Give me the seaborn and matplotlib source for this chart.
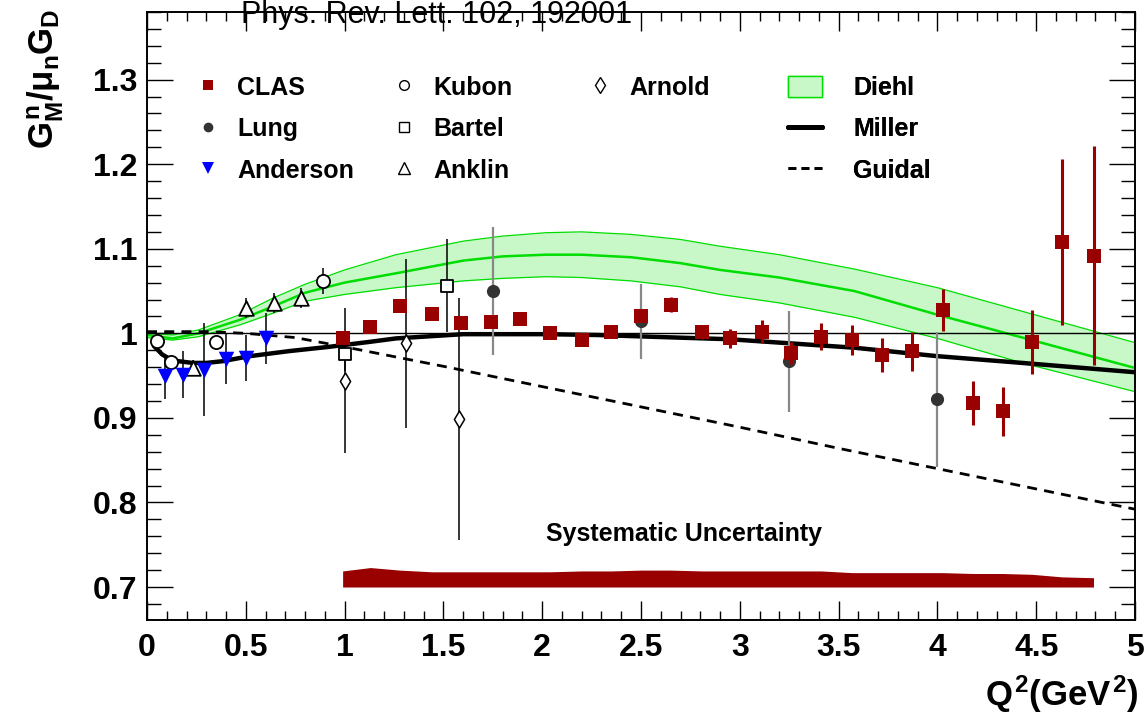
import numpy as np
import pandas as pd
import matplotlib
matplotlib.use("Agg")
import matplotlib.pyplot as plt
import seaborn as sns
from matplotlib.lines import Line2D
from matplotlib.patches import Patch
from matplotlib.ticker import MultipleLocator, FuncFormatter

# ---------------- data ----------------
clas_q2 = [0.99, 1.13, 1.28, 1.44, 1.59, 1.74, 1.89, 2.04, 2.20, 2.35, 2.50, 2.65, 2.81,
           2.95, 3.11, 3.26, 3.41, 3.57, 3.72, 3.87, 4.03, 4.18, 4.33, 4.48, 4.63, 4.79]
clas_val = [0.994, 1.007, 1.032, 1.023, 1.012, 1.013, 1.017, 1.000, 0.992, 1.002, 1.021, 1.034, 1.001,
            0.994, 1.002, 0.977, 0.996, 0.992, 0.974, 0.979, 1.028, 0.918, 0.908, 0.990, 1.108, 1.092]
clas_err = [0.003, 0.003, 0.003, 0.003, 0.003, 0.003, 0.003, 0.003, 0.003, 0.003, 0.008, 0.009, 0.008,
            0.011, 0.014, 0.013, 0.016, 0.018, 0.020, 0.023, 0.025, 0.026, 0.029, 0.038, 0.098, 0.130]
clas_sys = [0.019, 0.023, 0.020, 0.018, 0.018, 0.018, 0.018, 0.018, 0.019, 0.019, 0.020, 0.020, 0.019,
            0.019, 0.019, 0.019, 0.019, 0.017, 0.017, 0.017, 0.017, 0.016, 0.016, 0.015, 0.012, 0.011]

lung_q2 = [1.75, 2.50, 3.25, 4.00]
lung_val = [1.050, 1.014, 0.967, 0.922]
lung_err = [0.076, 0.044, 0.060, 0.080]

anderson_q2 = [0.09, 0.18, 0.29, 0.40, 0.50, 0.60]
anderson_val = [0.949, 0.951, 0.957, 0.970, 0.971, 0.994]
anderson_err = [0.027, 0.028, 0.055, 0.030, 0.027, 0.030]

kubon_q2 = [0.05, 0.12, 0.35, 0.89]
kubon_val = [0.991, 0.966, 0.990, 1.062]
kubon_err = [0.005, 0.005, 0.006, 0.015]

bartel_q2 = [1.00, 1.52]
bartel_val = [0.975, 1.056]
bartel_err = [0.020, 0.055]

anklin_q2 = [0.235, 0.50, 0.645, 0.78]
anklin_val = [0.959, 1.030, 1.036, 1.042]
anklin_err = [0.010, 0.012, 0.012, 0.012]

arnold_q2 = [1.00, 1.31, 1.58]
arnold_val = [0.944, 0.988, 0.899]
arnold_err = [0.086, 0.100, 0.143]

diehl_q2 = [0.0, 0.13, 0.26, 0.47, 0.64, 0.80, 1.00, 1.26, 1.60, 1.80, 2.02, 2.20, 2.45, 2.70,
            2.90, 3.20, 3.58, 4.00, 4.43, 5.00]
diehl_mid = [0.998, 0.994, 1.000, 1.016, 1.032, 1.048, 1.060, 1.071, 1.086, 1.091, 1.093, 1.093,
             1.090, 1.083, 1.075, 1.066, 1.050, 1.022, 0.995, 0.959]
diehl_hi = [1.000, 0.998, 1.004, 1.022, 1.042, 1.058, 1.075, 1.093, 1.109, 1.115, 1.119, 1.120,
            1.117, 1.111, 1.103, 1.093, 1.076, 1.054, 1.026, 0.989]
diehl_lo = [0.995, 0.992, 0.996, 1.010, 1.024, 1.038, 1.046, 1.054, 1.062, 1.065, 1.067, 1.066,
            1.062, 1.055, 1.046, 1.036, 1.019, 0.994, 0.965, 0.931]

miller_q2 = [0.035, 0.077, 0.128, 0.23, 0.30, 0.38, 0.52, 0.72, 0.92, 1.13, 1.26, 1.60, 2.02, 2.28, 2.95, 3.58, 4.00, 4.43, 5.00]
miller_val = [0.985, 0.975, 0.968, 0.965, 0.965, 0.967, 0.973, 0.979, 0.984, 0.990, 0.994, 0.999, 0.999, 0.998, 0.993, 0.983, 0.973, 0.965, 0.954]

guidal_q2 = [0.0, 0.30, 0.50, 0.75, 1.00, 1.50, 2.00, 2.50, 3.00, 3.50, 4.00, 4.50, 5.00]
guidal_val = [1.002, 1.002, 1.000, 0.995, 0.984, 0.961, 0.937, 0.913, 0.889, 0.864, 0.840, 0.816, 0.792]

x_ticks = [0, 0.5, 1, 1.5, 2, 2.5, 3, 3.5, 4, 4.5, 5]
y_ticks = [0.7, 0.8, 0.9, 1.0, 1.1, 1.2, 1.3]

# ---------------- style ----------------
CLAS_RED = "#990000"
GREEN = "#00dd00"
GREEN_FILL = "#c8f8c8"

sns.set_theme(style="ticks")
plt.rcParams.update({
    "font.family": ["Liberation Sans", "DejaVu Sans"],
    "font.weight": "bold",
    "mathtext.fontset": "custom",
    "mathtext.rm": "Liberation Sans:bold",
    "mathtext.it": "Liberation Sans:bold",
    "mathtext.bf": "Liberation Sans:bold",
    "mathtext.sf": "Liberation Sans:bold",
    "axes.edgecolor": "black",
    "axes.linewidth": 1.4,
    "xtick.color": "black",
    "ytick.color": "black",
    "text.color": "black",
})

fig = plt.figure(figsize=(11.47, 7.14), dpi=100)
ax = fig.add_axes([147 / 1147, 1 - 620 / 714, 988 / 1147, 608 / 714])
ax.set_facecolor("white")

# Diehl band
ax.fill_between(diehl_q2, diehl_lo, diehl_hi, color=GREEN_FILL, lw=0, zorder=1)
sns.lineplot(x=diehl_q2, y=diehl_hi, color=GREEN, lw=0.9, ax=ax, zorder=1.5, sort=False)
sns.lineplot(x=diehl_q2, y=diehl_lo, color=GREEN, lw=0.9, ax=ax, zorder=1.5, sort=False)
sns.lineplot(x=diehl_q2, y=diehl_mid, color=GREEN, lw=1.8, ax=ax, zorder=1.6, sort=False)

ax.axhline(1.0, color="black", lw=1.0, zorder=2)

# theory curves
sns.lineplot(x=guidal_q2, y=guidal_val, color="black", lw=2.0, ax=ax, zorder=2.5,
             sort=False).lines[-1].set_dashes((3.6, 2.6))
sns.lineplot(x=miller_q2, y=miller_val, color="black", lw=3.2, ax=ax, zorder=3, sort=False)

# systematic uncertainty band
sys_top = [0.70 + s for s in clas_sys]
ax.fill_between(clas_q2, 0.70, sys_top, color=CLAS_RED, lw=0, zorder=2)
ax.text(2.716, 0.763, "Systematic Uncertainty", ha="center", va="center",
        fontsize=18, fontweight="bold")

# error bars
def ebar(x, y, e, color, lw, z):
    ax.errorbar(x, y, yerr=e, fmt="none", ecolor=color, elinewidth=lw, capsize=0, zorder=z)

ebar(arnold_q2, arnold_val, arnold_err, "black", 1.1, 4)
ebar(bartel_q2, bartel_val, bartel_err, "black", 1.1, 4)
ebar(kubon_q2, kubon_val, kubon_err, "black", 1.1, 4)
ebar(anklin_q2, anklin_val, anklin_err, "black", 1.1, 4)
ebar(anderson_q2, anderson_val, anderson_err, "black", 1.1, 4)
ebar(lung_q2, lung_val, lung_err, "#888888", 1.6, 4.2)
ebar(clas_q2, clas_val, clas_err, CLAS_RED, 2.2, 5.5)

# markers
sns.scatterplot(x=arnold_q2, y=arnold_val, marker="d", s=75, color="white",
                edgecolor="black", linewidth=1.1, ax=ax, zorder=5, legend=False)
sns.scatterplot(x=bartel_q2, y=bartel_val, marker="s", s=85, color="white",
                edgecolor="black", linewidth=1.3, ax=ax, zorder=5, legend=False)
sns.scatterplot(x=kubon_q2, y=kubon_val, marker="o", s=90, color="white",
                edgecolor="black", linewidth=1.3, ax=ax, zorder=5, legend=False)
sns.scatterplot(x=anklin_q2, y=anklin_val, marker="^", s=110, color="white",
                edgecolor="black", linewidth=1.3, ax=ax, zorder=5, legend=False)
sns.scatterplot(x=anderson_q2, y=anderson_val, marker="v", s=125, color="#0000ff",
                edgecolor="#0000ff", linewidth=0, ax=ax, zorder=5.2, legend=False)
sns.scatterplot(x=lung_q2, y=lung_val, marker="o", s=90, color="#333333",
                edgecolor="#333333", linewidth=0, ax=ax, zorder=5.3, legend=False)
sns.scatterplot(x=clas_q2, y=clas_val, marker="s", s=90, color=CLAS_RED,
                edgecolor=CLAS_RED, linewidth=0, ax=ax, zorder=6, legend=False)

# axes
ax.set_xlim(0, 5)
ax.set_ylim(0.661, 1.380)
ax.set_xticks(x_ticks)
ax.set_yticks(y_ticks)
ax.xaxis.set_minor_locator(MultipleLocator(0.1))
ax.yaxis.set_minor_locator(MultipleLocator(0.02))
fmt = FuncFormatter(lambda v, p: f"{v:g}")
ax.xaxis.set_major_formatter(fmt)
ax.yaxis.set_major_formatter(fmt)
ax.tick_params(which="both", direction="in", top=True, right=True, width=1.0,
               labelsize=23)
ax.tick_params(axis="x", which="major", length=13.5, pad=9.5)
ax.tick_params(axis="x", which="minor", length=6.5)
ax.tick_params(axis="y", which="major", length=19, pad=7)
ax.tick_params(axis="y", which="minor", length=10)
for lab in ax.get_xticklabels() + ax.get_yticklabels():
    lab.set_fontweight("bold")
ax.set_xlabel("")
ax.set_ylabel("")
for sp in ax.spines.values():
    sp.set_visible(True)
    sp.set_linewidth(1.4)

fig.text(46 / 1147, 1 - 9 / 714, r"$G^{n}_{M}/\mu_{n}G_{D}$", rotation=90,
         ha="center", va="top", fontsize=25)
fig.text(1138 / 1147, 1 - 706 / 714, r"$Q^{2}(GeV^{2})$", ha="right", va="baseline",
         fontsize=25)
fig.text(0.381, 1 - 23 / 714, "Phys. Rev. Lett. 102, 192001", ha="center", va="baseline",
         fontsize=22, fontweight="normal")

# legend (four columns, ROOT style)
def mk(marker, size, face, edge, ew=1.0):
    return Line2D([], [], linestyle="none", marker=marker, markersize=size,
                  markerfacecolor=face, markeredgecolor=edge, markeredgewidth=ew)

cols = [
    ([mk("s", 7, CLAS_RED, CLAS_RED, 0), mk("o", 7, "#333333", "#333333", 0),
      mk("v", 8, "#0000ff", "#0000ff", 0)], ["CLAS", "Lung", "Anderson"], 0.0486, 1.0, 0.68),
    ([mk("o", 7, "white", "black"), mk("s", 7, "white", "black"), mk("^", 8, "white", "black")],
     ["Kubon", "Bartel", "Anklin"], 0.2475, 1.0, 0.68),
    ([mk("d", 8, "white", "black")], ["Arnold"], 0.4458, 1.0, 0.68),
    ([Patch(facecolor=GREEN_FILL, edgecolor=GREEN, lw=1.0),
      Line2D([], [], color="black", lw=3.6),
      Line2D([], [], color="black", lw=2.0, dashes=(2.8, 1.9))],
     ["Diehl", "Miller", "Guidal"], 0.6488, 1.36, 1.24),
]
for handles, labels, x0, hl, htp in cols:
    leg = ax.legend(handles, labels, loc="upper left", bbox_to_anchor=(x0, 0.895),
                    frameon=False, borderaxespad=0, borderpad=0, handlelength=hl,
                    handletextpad=htp, handleheight=0.9, labelspacing=0.7,
                    prop={"family": "Liberation Sans", "weight": "bold", "size": 18})
    ax.add_artist(leg)

fig.savefig("out.png", dpi=100)
